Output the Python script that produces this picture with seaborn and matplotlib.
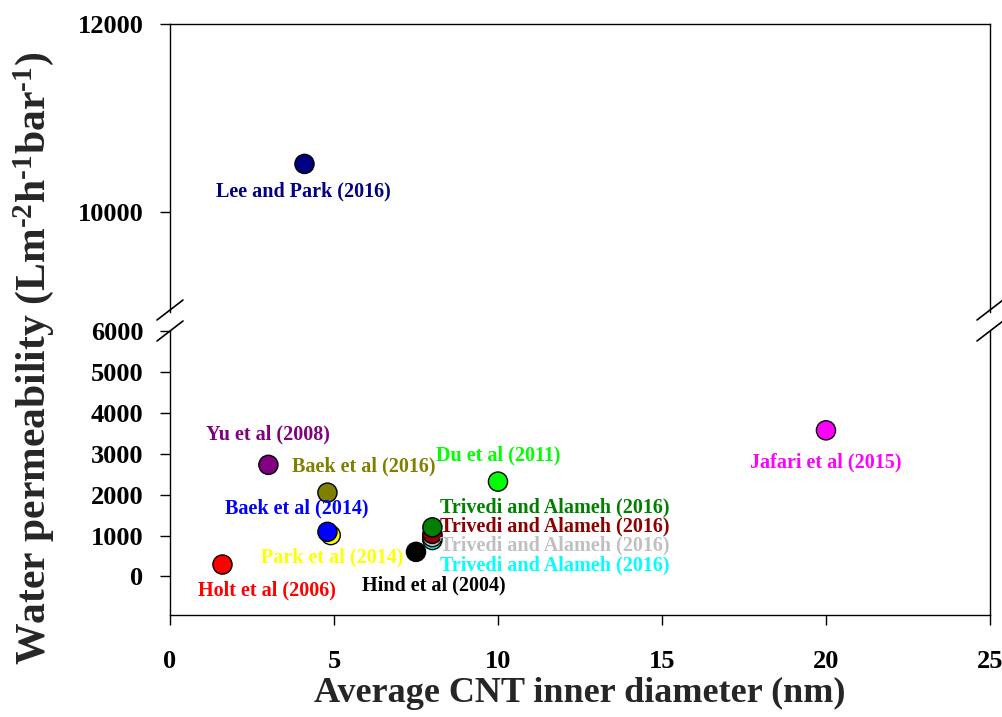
import matplotlib
matplotlib.use("Agg")
import matplotlib.pyplot as plt
from matplotlib.lines import Line2D
import pandas as pd
import seaborn as sns

# data (draw order: later points sit on top)
studies = ["Holt et al (2006)", "Hind et al (2004)", "Yu et al (2008)",
           "Park et al (2014)", "Baek et al (2014)", "Baek et al (2016)",
           "Du et al (2011)", "Jafari et al (2015)",
           "Trivedi and Alameh (2016)", "Trivedi and Alameh (2016)",
           "Trivedi and Alameh (2016)", "Trivedi and Alameh (2016)",
           "Lee and Park (2016)"]
diameter = [1.6, 7.5, 3.0, 4.9, 4.8, 4.8, 10.0, 20.0, 8.0, 8.0, 8.0, 8.0, 4.1]
permeability = [290, 600, 2730, 1010, 1090, 2050, 2320, 3575,
                890, 960, 1040, 1200, 10510]
colors = ["#FF0000", "#000000", "#800080", "#FFFF00", "#0000FF", "#808000",
          "#00FF00", "#FF00FF", "#00FFFF", "#C0C0C0", "#8B0000", "#008000",
          "#000080"]

# label offsets in points (styling, not data)
label_offsets = [(32, -19), (13, -24), (0, 22), (1, -16), (-22, 17), (26, 19),
                 (0, 19), (0, -23), (88, -18), (88, -6), (88, 5), (88, 14.5),
                 (-1, -20)]

df = pd.DataFrame({"study": studies, "x": diameter, "y": permeability})
df["key"] = range(len(df))
palette = {k: c for k, c in zip(df["key"], colors)}

sns.set_style("ticks")
plt.rcParams["font.family"] = ["Liberation Serif", "DejaVu Serif"]
plt.rcParams["font.weight"] = "bold"
plt.rcParams["mathtext.fontset"] = "custom"
plt.rcParams["mathtext.rm"] = "Liberation Serif:bold"
plt.rcParams["mathtext.bf"] = "Liberation Serif:bold"
plt.rcParams["mathtext.default"] = "bf"

fig = plt.figure(figsize=(10.03, 7.17), dpi=100)
left, width = 0.1695, 0.8175
ax_top = fig.add_axes([left, 0.565, width, 0.401])
ax_bot = fig.add_axes([left, 0.142, width, 0.396])

for ax in (ax_top, ax_bot):
    sns.scatterplot(data=df, x="x", y="y", hue="key", palette=palette,
                    s=190, edgecolor="black", linewidth=1.0, legend=False,
                    ax=ax, zorder=3)
    ax.set_xlim(0, 25)
    ax.set_xlabel("")
    ax.set_ylabel("")
    for sp in ax.spines.values():
        sp.set_linewidth(1.0)
        sp.set_color("black")
    ax.tick_params(direction="out", length=7, width=1.0, labelsize=19,
                   colors="black")

ax_top.set_ylim(8930, 12000)
ax_top.set_yticks([10000, 12000])
ax_top.spines["bottom"].set_visible(False)
ax_top.tick_params(axis="x", bottom=False, labelbottom=False)
ax_top.tick_params(axis="y", pad=12)

ax_bot.set_ylim(-950, 6000)
ax_bot.set_yticks([0, 1000, 2000, 3000, 4000, 5000, 6000])
ax_bot.spines["top"].set_visible(False)
ax_bot.set_xticks([0, 5, 10, 15, 20, 25])
ax_bot.tick_params(axis="x", pad=18)
ax_bot.tick_params(axis="y", pad=12)

for lab in ax_top.get_yticklabels() + ax_bot.get_yticklabels() + ax_bot.get_xticklabels():
    lab.set_fontweight("bold")

# labels next to each point
for i, row in df.iterrows():
    ax = ax_top if row["y"] > 6000 else ax_bot
    ax.annotate(row["study"], (row["x"], row["y"]), xytext=label_offsets[i],
                textcoords="offset points", ha="center", va="center",
                color=colors[i], fontsize=14.5, fontweight="bold", zorder=4)

# axis break marks
W, H = 1003, 717
for xpix in (170, 990):
    for ypix in (310, 331):
        fig.add_artist(Line2D([(xpix - 13) / W, (xpix + 13) / W],
                              [1 - (ypix + 10) / H, 1 - (ypix - 10) / H],
                              color="black", linewidth=1.2,
                              transform=fig.transFigure))

fig.text(0.033, 0.5, r"Water permeability (Lm$^{\text{-2}}$h$^{\text{-1}}$bar$^{\text{-1}}$)",
         rotation=90, ha="center", va="center", fontsize=30, fontweight="bold")
fig.text(0.578, 0.033, "Average CNT inner diameter (nm)", ha="center",
         va="center", fontsize=26, fontweight="bold")

fig.savefig("out.png", dpi=100)
